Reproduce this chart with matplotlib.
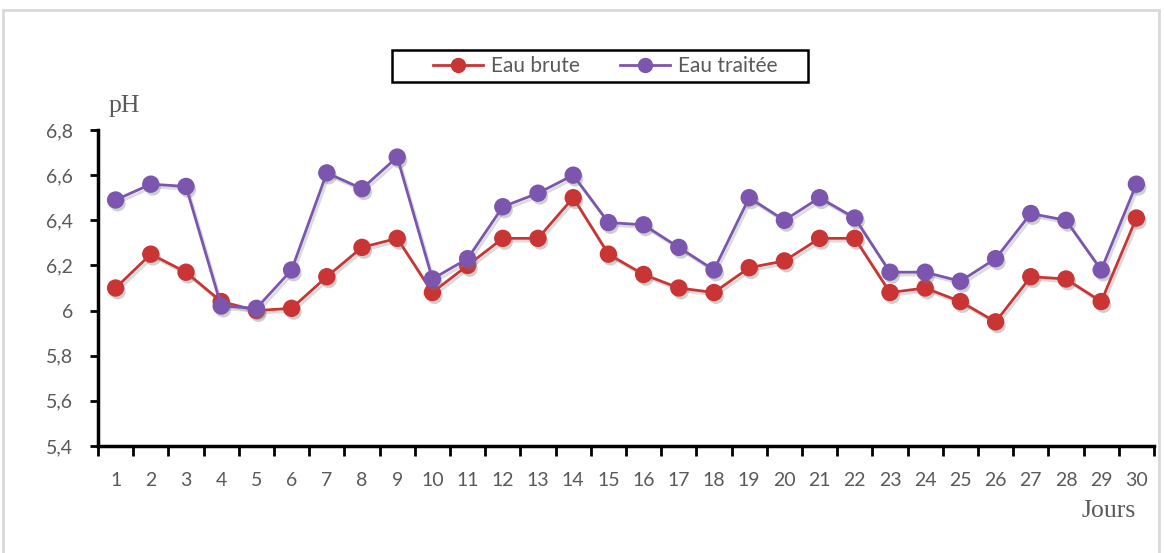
import matplotlib.pyplot as plt
import matplotlib.patheffects as pe
from matplotlib.patches import Rectangle
from matplotlib.lines import Line2D
from matplotlib.ticker import FixedLocator

# pH journalier
jours = list(range(1, 31))
eau_brute = [6.10, 6.25, 6.17, 6.04, 6.00, 6.01, 6.15, 6.28, 6.32, 6.08,
             6.20, 6.32, 6.32, 6.50, 6.25, 6.16, 6.10, 6.08, 6.19, 6.22,
             6.32, 6.32, 6.08, 6.10, 6.04, 5.95, 6.15, 6.14, 6.04, 6.41]
eau_traitee = [6.49, 6.56, 6.55, 6.02, 6.01, 6.18, 6.61, 6.54, 6.68, 6.14,
               6.23, 6.46, 6.52, 6.60, 6.39, 6.38, 6.28, 6.18, 6.50, 6.40,
               6.50, 6.41, 6.17, 6.17, 6.13, 6.23, 6.43, 6.40, 6.18, 6.56]
y_ticks = [5.4, 5.6, 5.8, 6.0, 6.2, 6.4, 6.6, 6.8]
y_labels = ["5,4", "5,6", "5,8", "6", "6,2", "6,4", "6,6", "6,8"]

rouge = "#C93434"
violet = "#7B55AE"
gris = "#595959"

fig = plt.figure(figsize=(11.64, 5.53), dpi=100)
ax = fig.add_axes([0.0842, 0.1935, 0.9072, 0.5714])

# cadre gris autour du graphique
fig.patches.append(Rectangle((0.003, -0.01), 0.993, 0.992, transform=fig.transFigure,
                             fill=False, edgecolor="#D9D9D9", linewidth=2))

ombre_ligne = [pe.SimpleLineShadow(offset=(1.5, -2), shadow_color="#888888", alpha=0.3), pe.Normal()]
ombre_point = [pe.SimplePatchShadow(offset=(1.5, -2.5), shadow_rgbFace="#777777", alpha=0.35), pe.Normal()]

for serie, couleur, z in [(eau_brute, rouge, 3), (eau_traitee, violet, 5)]:
    ax.plot(jours, serie, color=couleur, lw=2, path_effects=ombre_ligne,
            clip_on=False, zorder=z)
    ax.plot(jours, serie, ls="none", marker="o", ms=11.5, markerfacecolor=couleur,
            markeredgecolor=couleur, path_effects=ombre_point, clip_on=False,
            zorder=z + 0.5)

ax.set_xlim(0.5, 30.5)
ax.set_ylim(5.4, 6.8)

for s in ["top", "right"]:
    ax.spines[s].set_visible(False)
for s in ["left", "bottom"]:
    ax.spines[s].set_linewidth(2.5)

ax.set_yticks(y_ticks)
ax.set_yticklabels(y_labels, fontfamily="Lato", fontsize=14, color=gris)
ax.tick_params(axis="y", direction="out", length=6, width=2, pad=12)

# graduations entre les jours, étiquettes au centre
ax.xaxis.set_major_locator(FixedLocator([j + 0.5 for j in range(0, 31)]))
ax.xaxis.set_minor_locator(FixedLocator(jours))
ax.set_xticklabels([])
ax.set_xticklabels([str(j) for j in jours], minor=True, fontfamily="Lato",
                   fontsize=14, color=gris)
ax.tick_params(axis="x", which="major", direction="out", length=7, width=2)
ax.tick_params(axis="x", which="minor", length=0, pad=19)

fig.text(0.093, 0.797, "pH", fontfamily="Liberation Serif", fontsize=18.5, color=gris)
fig.text(0.976, 0.066, "Jours", fontfamily="Liberation Serif", fontsize=18.5,
         color=gris, ha="right")

# légende sans cadre + rectangle noir autour
poignees = [Line2D([], [], color=rouge, lw=2, marker="o", ms=10),
            Line2D([], [], color=violet, lw=2, marker="o", ms=10)]
leg = fig.legend(poignees, ["Eau brute", "Eau traitée"], loc="center",
                 bbox_to_anchor=(0.5198, 0.8807), ncol=2,
                 prop={"family": "Lato", "size": 15}, frameon=False,
                 handlelength=2.4, handletextpad=0.4, columnspacing=1.9,
                 borderpad=0, borderaxespad=0)
for t in leg.get_texts():
    t.set_color(gris)
fig.patches.append(Rectangle((0.3368, 0.8517), 0.3574, 0.0579, transform=fig.transFigure,
                             fill=False, edgecolor="black", linewidth=1.8))

fig.savefig("out.png", dpi=100)
